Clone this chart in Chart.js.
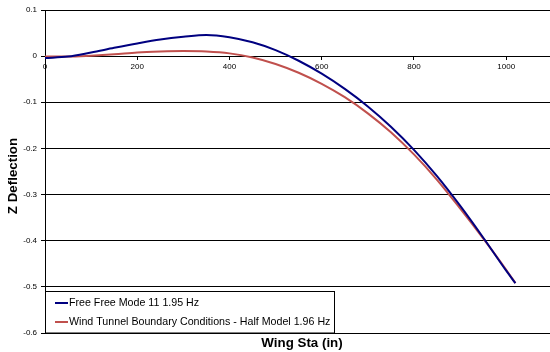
<!DOCTYPE html>
<html>
<head>
<meta charset="utf-8">
<script src="https://cdn.jsdelivr.net/npm/chart.js@4.4.1/dist/chart.umd.min.js"></script>
<style>
  html, body { margin: 0; padding: 0; background: #fff; }
  #wrap { width: 550px; height: 352px; }
</style>
</head>
<body>
<div id="wrap"><canvas id="deflChart"></canvas></div>
<script>
// Wing station (in)
const wingSta = [0, 50, 100, 150, 200, 250, 300, 350, 400, 450, 500, 550, 600, 650, 700, 750, 800, 850, 900, 950, 1000, 1020];
// Z deflection, free-free mode 11
const freeFree = [-0.004, -0.001, 0.008, 0.018, 0.0275, 0.036, 0.042, 0.046, 0.041, 0.030, 0.013, -0.010, -0.038, -0.071, -0.109, -0.153, -0.203, -0.260, -0.324, -0.393, -0.465, -0.492];
// Z deflection, wind tunnel boundary conditions
const windTunnel = [-0.001, -0.001, 0.001, 0.004, 0.008, 0.010, 0.011, 0.010, 0.006, -0.003, -0.017, -0.036, -0.060, -0.089, -0.124, -0.165, -0.213, -0.268, -0.330, -0.395, -0.463, -0.492];

const seriesNames = ['Free Free Mode 11 1.95 Hz', 'Wind Tunnel Boundary Conditions - Half Model 1.96 Hz'];
const seriesColors = ['#000080', '#C0504D'];
const yTicks = [0.1, 0, -0.1, -0.2, -0.3, -0.4, -0.5, -0.6];
const xTicks = [0, 200, 400, 600, 800, 1000];

const toPoints = (ys) => wingSta.map((x, i) => ({ x: x, y: ys[i] }));

// legend box + axis titles, drawn like the excel chart
const extras = {
    id: 'extras',
    afterDraw(chart) {
        const ctx = chart.ctx;
        const area = chart.chartArea;
        ctx.save();

        // legend
        const bx = area.left + 0.5, by = 291.5, bw = 289, bh = area.bottom - 291.5;
        ctx.fillStyle = '#fff';
        ctx.fillRect(bx, by, bw, bh);
        ctx.strokeStyle = '#000';
        ctx.lineWidth = 1;
        ctx.strokeRect(bx, by, bw, bh);
        ctx.font = '10.67px "Liberation Sans", Arial, sans-serif';
        ctx.textBaseline = 'middle';
        ctx.textAlign = 'left';
        const rows = [303, 322];
        seriesNames.forEach((name, i) => {
            ctx.strokeStyle = seriesColors[i];
            ctx.lineWidth = 2;
            ctx.beginPath();
            ctx.moveTo(55, rows[i]);
            ctx.lineTo(68, rows[i]);
            ctx.stroke();
            ctx.fillStyle = '#000';
            ctx.fillText(name, 69, rows[i]);
        });

        // axis titles
        ctx.font = 'bold 13.33px "Liberation Sans", Arial, sans-serif';
        ctx.fillStyle = '#000';
        ctx.textAlign = 'center';
        ctx.fillText('Wing Sta (in)', 302, 343);
        ctx.translate(13.5, 176);
        ctx.rotate(-Math.PI / 2);
        ctx.fillText('Z Deflection', 0, 0);
        ctx.restore();
    }
};

new Chart(document.getElementById('deflChart'), {
    type: 'line',
    data: {
        datasets: [
            {
                label: seriesNames[0],
                data: toPoints(freeFree),
                borderColor: seriesColors[0],
                borderWidth: 2,
                pointRadius: 0,
                cubicInterpolationMode: 'monotone',
                fill: false
            },
            {
                label: seriesNames[1],
                data: toPoints(windTunnel),
                borderColor: seriesColors[1],
                borderWidth: 2,
                pointRadius: 0,
                cubicInterpolationMode: 'monotone',
                fill: false
            }
        ]
    },
    plugins: [extras],
    options: {
        responsive: true,
        maintainAspectRatio: false,
        animation: false,
        layout: { padding: { top: 10, bottom: 19, left: 0, right: 0 } },
        plugins: {
            legend: { display: false },
            tooltip: { enabled: false }
        },
        scales: {
            x: {
                type: 'linear',
                min: 0,
                max: 1095,
                position: { y: 0 },
                afterBuildTicks: (scale) => {
                    scale.ticks = xTicks.map(v => ({ value: v }));
                },
                ticks: {
                    color: '#000',
                    font: { family: '"Liberation Sans", Arial, sans-serif', size: 8 },
                    padding: 3,
                    maxRotation: 0,
                    callback: (v) => String(v)
                },
                grid: {
                    drawOnChartArea: false,
                    drawTicks: true,
                    tickLength: 3,
                    color: '#000'
                },
                border: { display: true, color: '#000', width: 1 }
            },
            y: {
                min: -0.6,
                max: 0.1,
                afterBuildTicks: (scale) => {
                    scale.ticks = yTicks.map(v => ({ value: v }));
                },
                afterFit: (scale) => { scale.width = 45; },
                ticks: {
                    color: '#000',
                    font: { family: '"Liberation Sans", Arial, sans-serif', size: 8 },
                    padding: 4,
                    callback: (v) => String(Math.round(v * 10) / 10)
                },
                grid: {
                    color: '#000',
                    lineWidth: 1,
                    drawTicks: true,
                    tickLength: 4
                },
                border: { display: true, color: '#000', width: 1 }
            }
        }
    }
});
</script>
</body>
</html>
